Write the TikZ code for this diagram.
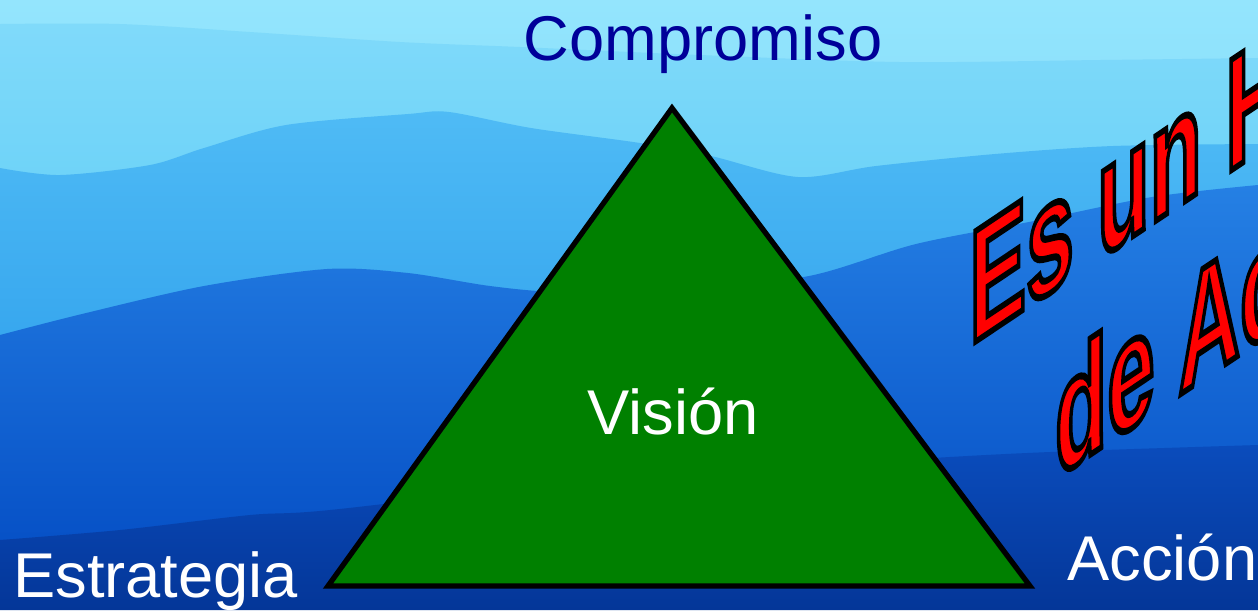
\documentclass[tikz,border=0pt]{standalone}
\usepackage{fontspec}
\setmainfont{Liberation Sans}
\usetikzlibrary{positioning}
\newcommand\inked[1]{\special{pdf:literal direct 0 0 0 RG 2 Tr 2 w}#1\special{pdf:literal direct 0 Tr}}
\definecolor{skytop}{HTML}{94E5FD}
\definecolor{skylow}{HTML}{82DCFA}
\definecolor{hazetop}{HTML}{80DAFA}
\definecolor{hazelow}{HTML}{6CD2F8}
\definecolor{ridgetop}{HTML}{4FBBF5}
\definecolor{ridgelow}{HTML}{36A6EE}
\definecolor{foresttop}{HTML}{2580E4}
\definecolor{forestlow}{HTML}{0650C6}
\definecolor{valetop}{HTML}{0A4CBC}
\definecolor{valelow}{HTML}{043698}
\definecolor{navy}{RGB}{0,0,153}
\definecolor{leaf}{HTML}{008000}

\begin{document}
\begin{tikzpicture}[x=0.02cm,y=-0.02cm,
    word/.style={inner sep=0pt,anchor=base west,font=\fontsize{36}{43}\selectfont,text=white},
    slogan/.style={inner sep=0pt,anchor=base west,transform shape,
      font=\fontsize{48.6}{58}\selectfont\bfseries,text=red}]
    \useasboundingbox (0,0) rectangle (1258,610);
    \clip (0,0) rectangle (1258,610);
    \shade[top color=skytop,bottom color=skylow] (0,0) rectangle (1258,200);
    \shade[top color=hazetop,bottom color=hazelow] plot[smooth] coordinates {(0,24) (120,24) (250,32) (400,42) (520,47)
      (700,55) (900,62) (1100,60) (1258,58)} -- (1258,200) -- (0,200) -- cycle;
    \shade[top color=ridgetop,bottom color=ridgelow] plot[smooth] coordinates {(0,168) (60,175) (150,165) (204,148)
      (286,125) (408,114) (449,112) (531,128) (640,143) (711,156) (798,177) (876,166) (995,154) (1113,146) (1258,144)}
      -- (1258,350) -- (0,350) -- cycle;
    \shade[top color=foresttop,bottom color=forestlow] plot[smooth] coordinates {(0,335) (82,314) (204,286) (327,269)
      (408,273) (490,286) (560,292) (680,290) (809,276) (916,244) (1034,221) (1152,197) (1258,185)}
      -- (1258,550) -- (0,550) -- cycle;
    \shade[top color=valetop,bottom color=valelow] plot[smooth] coordinates {(0,540) (120,530) (250,515) (330,510)
      (600,480) (900,460) (1050,452) (1258,445)} -- (1258,610) -- (0,610) -- cycle;

    \coordinate (apex) at (672,108);
    \coordinate (bl) at (328,586);
    \coordinate (br) at (1030,586);
    \draw[line width=3pt,fill=leaf] (apex) -- (br) -- (bl) -- cycle;

    \node[word,anchor=base,text=navy] (comp) at (703,60) {Compromiso};
    \node[word,anchor=base] (vis) at (673,434) {Visión};
    \node[word] (estr) at (13,597) {Estrategia};
    \node[word] (acc) at (1067,580) {Acción};

    \begin{scope}[shift={(969,346)},cm={1,0.67,0,1.88,(0,0)}]
      \node[slogan] (es) at (0pt,0pt) {\inked{Es un H}};
      \node[slogan] (de) at (48.75pt,-57.5pt) {\inked{de Ac}};
    \end{scope}
  \end{tikzpicture}
\end{document}
